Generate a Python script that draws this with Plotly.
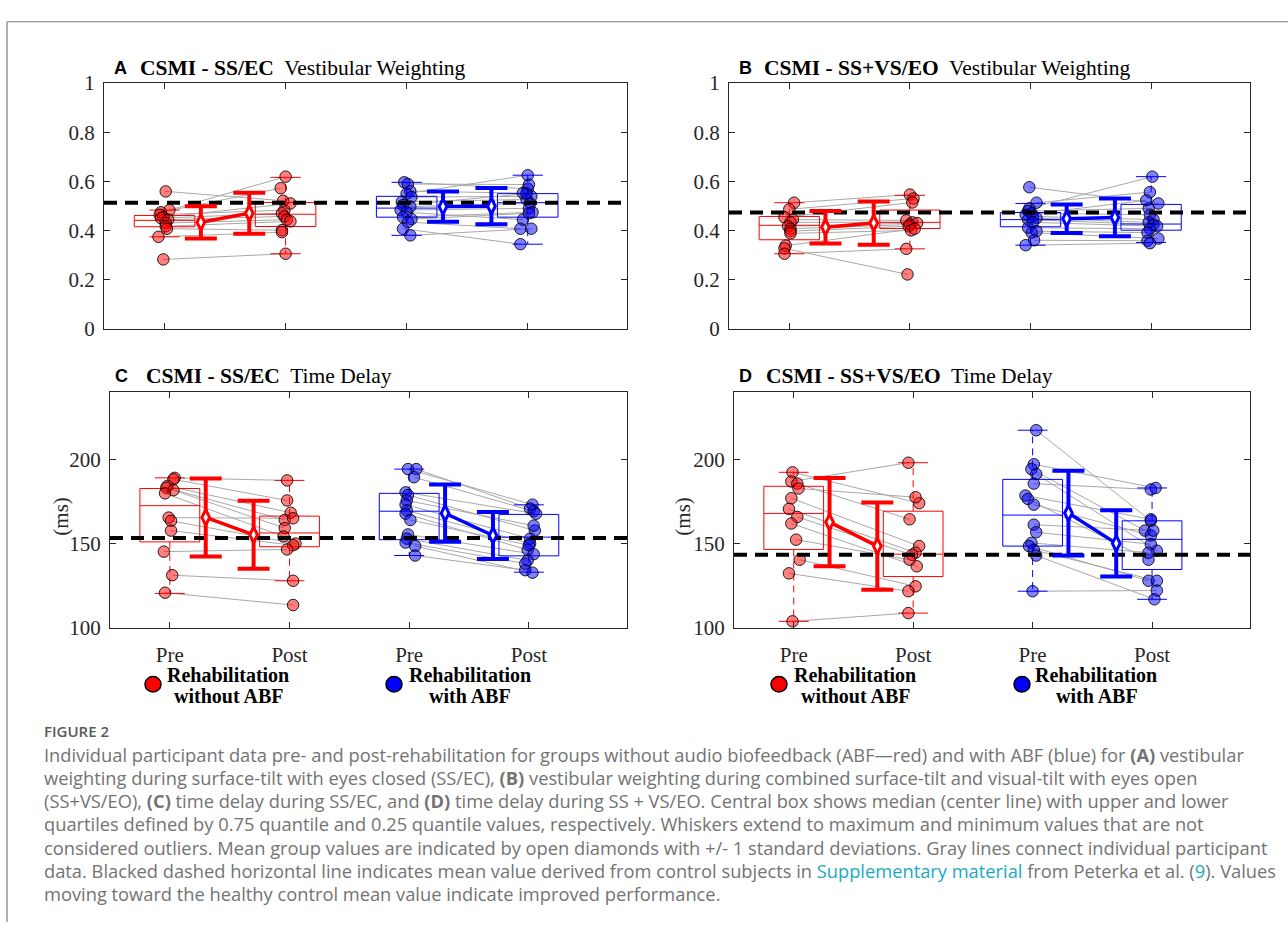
import plotly.graph_objects as go

W, H = 1288, 934

# ---------------- data ----------------
tick_positions = [1, 2, 3, 4]
tick_labels = ['Pre', 'Post', 'Pre', 'Post']

# Panel A  (SS/EC vestibular weighting)
a_red_pre = [0.559, 0.483, 0.474, 0.464, 0.454, 0.450, 0.444, 0.430, 0.417, 0.407, 0.374, 0.282]
a_red_pre_dx = [0.01, 0.04, -0.03, -0.04, -0.01, -0.03, 0.03, 0.01, 0.01, 0.02, -0.05, -0.01]
a_red_post = [0.521, 0.619, 0.572, 0.483, 0.510, 0.470, 0.457, 0.444, 0.437, 0.401, 0.393, 0.305]
a_red_post_dx = [-0.02, 0.00, -0.04, -0.01, 0.04, -0.03, -0.01, 0.01, 0.04, -0.03, -0.03, 0.00]
a_blue_pre = [0.596, 0.589, 0.560, 0.550, 0.536, 0.517, 0.503, 0.497, 0.483, 0.474, 0.454, 0.446, 0.434, 0.407, 0.380]
a_blue_pre_dx = [-0.02, 0.01, 0.03, 0.00, 0.04, -0.04, -0.03, 0.03, -0.05, 0.00, -0.03, 0.04, 0.01, -0.03, 0.03]
a_blue_post = [0.570, 0.587, 0.552, 0.625, 0.539, 0.526, 0.550, 0.510, 0.490, 0.444, 0.474, 0.470, 0.407, 0.344, 0.407]
a_blue_post_dx = [0.00, 0.01, -0.04, 0.00, 0.03, -0.01, -0.01, 0.02, 0.01, -0.04, 0.04, 0.01, -0.06, -0.06, 0.03]
a_q1 = [0.415, 0.416, 0.454, 0.454]
a_med = [0.441, 0.466, 0.491, 0.513]
a_q3 = [0.461, 0.514, 0.539, 0.550]
a_lo = [0.374, 0.305, 0.380, 0.344]
a_hi = [0.483, 0.616, 0.596, 0.625]
a_mean = [0.433, 0.470, 0.497, 0.499]
a_sd = [0.066, 0.083, 0.062, 0.074]
a_control = 0.513

# Panel B  (SS+VS/EO vestibular weighting)
b_red_pre = [0.513, 0.486, 0.454, 0.444, 0.433, 0.417, 0.407, 0.397, 0.388, 0.338, 0.327, 0.305]
b_red_pre_dx = [0.04, 0.00, -0.04, 0.03, 0.01, -0.01, 0.01, 0.01, 0.01, -0.03, -0.04, -0.04]
b_red_post = [0.546, 0.530, 0.514, 0.441, 0.433, 0.430, 0.424, 0.417, 0.400, 0.407, 0.221, 0.325]
b_red_post_dx = [0.00, 0.03, 0.02, -0.03, 0.02, 0.06, 0.00, -0.01, 0.01, 0.04, -0.02, -0.03]
b_blue_pre = [0.576, 0.513, 0.490, 0.479, 0.470, 0.464, 0.457, 0.450, 0.444, 0.433, 0.411, 0.397, 0.391, 0.360, 0.340]
b_blue_pre_dx = [-0.01, 0.05, -0.01, -0.02, 0.01, -0.04, 0.02, 0.05, -0.02, 0.02, -0.02, 0.05, 0.01, 0.03, -0.04]
b_blue_post = [0.510, 0.556, 0.619, 0.490, 0.464, 0.523, 0.444, 0.433, 0.424, 0.417, 0.407, 0.391, 0.367, 0.358, 0.348]
b_blue_post_dx = [0.06, -0.01, 0.01, -0.02, -0.01, -0.04, 0.02, -0.02, 0.02, 0.05, -0.01, -0.03, 0.06, -0.03, -0.01]
b_q1 = [0.362, 0.408, 0.415, 0.401]
b_med = [0.421, 0.433, 0.444, 0.426]
b_q3 = [0.457, 0.483, 0.473, 0.506]
b_lo = [0.305, 0.325, 0.340, 0.351]
b_hi = [0.513, 0.543, 0.510, 0.619]
b_mean = [0.413, 0.430, 0.448, 0.453]
b_sd = [0.066, 0.088, 0.058, 0.077]
b_control = 0.473

# Panel C  (SS/EC time delay, ms)
c_red_pre = [189.0, 188.1, 184.2, 183.1, 181.7, 179.8, 165.4, 163.5, 157.7, 145.2, 131.2, 120.8]
c_red_pre_dx = [0.04, 0.03, -0.02, -0.03, 0.03, -0.04, -0.01, 0.01, 0.01, -0.05, 0.02, -0.04]
c_red_post = [187.5, 175.6, 168.3, 164.0, 159.2, 154.2, 165.0, 150.0, 149.0, 146.5, 127.9, 113.5]
c_red_post_dx = [-0.02, -0.02, 0.01, -0.04, -0.04, -0.05, 0.03, 0.05, 0.03, -0.02, 0.03, 0.03]
c_blue_pre = [194.2, 194.2, 189.4, 180.4, 178.8, 175.6, 173.1, 169.6, 167.7, 164.0, 155.4, 152.9, 150.6, 148.5, 142.9]
c_blue_pre_dx = [-0.01, 0.06, 0.04, -0.03, -0.01, -0.02, -0.03, -0.02, -0.03, 0.01, -0.01, -0.02, -0.03, 0.05, 0.05]
c_blue_post = [173.1, 170.8, 169.2, 167.7, 157.7, 160.6, 152.9, 150.0, 146.2, 149.0, 143.7, 140.0, 138.1, 132.7, 134.2]
c_blue_post_dx = [0.03, 0.01, 0.04, 0.06, 0.05, 0.04, 0.01, 0.01, -0.01, 0.00, 0.04, -0.01, -0.03, 0.03, -0.03]
c_q1 = [151.0, 148.1, 152.3, 142.7]
c_med = [172.5, 156.3, 169.2, 153.8]
c_q3 = [182.7, 166.3, 179.8, 167.3]
c_lo = [120.4, 127.9, 142.9, 133.0]
c_hi = [189.0, 187.5, 194.2, 173.0]
c_mean = [165.5, 155.2, 168.0, 154.8]
c_sd = [23.2, 20.2, 17.0, 14.0]
c_control = 153.3

# Panel D  (SS+VS/EO time delay, ms)
d_red_pre = [192.3, 186.9, 185.6, 182.7, 176.9, 170.6, 165.8, 161.9, 152.3, 140.4, 132.3, 103.8]
d_red_pre_dx = [-0.01, -0.02, 0.03, 0.04, -0.02, -0.04, 0.03, -0.02, 0.02, 0.05, -0.04, -0.01]
d_red_post = [174.0, 198.0, 164.4, 177.5, 148.5, 144.6, 143.3, 136.5, 140.4, 124.6, 121.7, 108.7]
d_red_post_dx = [0.05, -0.04, -0.03, 0.02, 0.05, 0.02, -0.01, 0.03, -0.03, 0.02, -0.04, -0.04]
d_blue_pre = [217.3, 197.1, 194.2, 191.3, 185.6, 178.5, 176.5, 173.1, 161.2, 156.7, 150.4, 148.5, 146.2, 142.9, 121.7]
d_blue_pre_dx = [0.03, 0.01, -0.01, 0.03, 0.01, -0.06, -0.04, 0.01, 0.01, 0.03, -0.01, -0.03, 0.01, 0.03, 0.00]
d_blue_post = [163.5, 183.0, 157.7, 145.8, 182.1, 164.4, 140.4, 154.8, 157.7, 149.6, 144.6, 127.9, 127.9, 116.9, 122.1]
d_blue_post_dx = [-0.01, 0.03, -0.06, 0.04, -0.01, -0.01, -0.03, -0.01, 0.01, -0.01, -0.03, -0.03, 0.04, 0.02, 0.04]
d_q1 = [146.5, 130.4, 148.5, 134.6]
d_med = [167.9, 143.7, 166.9, 152.5]
d_q3 = [184.0, 169.2, 188.1, 163.5]
d_lo = [103.8, 108.7, 121.7, 116.9]
d_hi = [192.3, 198.0, 217.3, 183.0]
d_mean = [162.7, 148.5, 168.1, 150.1]
d_sd = [26.2, 25.9, 25.2, 19.7]
d_control = 143.3

vw_ticks = [0, 0.2, 0.4, 0.6, 0.8, 1]
vw_tick_labels = ['0', '0.2', '0.4', '0.6', '0.8', '1']
td_ticks = [100, 150, 200]
td_tick_labels = ['100', '150', '200']

# ---------------- style ----------------
RED = '#ff0000'
BLUE = '#0000ff'
FILLS = {RED: 'rgba(255,0,0,0.5)', BLUE: 'rgba(0,0,255,0.5)'}
AX = '#262626'
SERIF = 'Liberation Serif'
SANS = 'Liberation Sans'
X_RANGE = [0.5, 4.82]
BOX_HALF = 0.25
CAP_HALF = 0.125
MEAN_SHIFT = 0.3


def px(x):
    return x / W


def py(y):
    return 1 - y / H


panels = [
    dict(ax='', xdom=(104, 627), ydom=(73, 325), yr=[0, 1], yt=vw_ticks, ytl=vw_tick_labels, xlabels=False,
         groups=[(a_red_pre, a_red_pre_dx, a_red_post, a_red_post_dx, RED),
                 (a_blue_pre, a_blue_pre_dx, a_blue_post, a_blue_post_dx, BLUE)],
         box=(a_q1, a_med, a_q3, a_lo, a_hi), mean=a_mean, sd=a_sd, control=a_control),
    dict(ax='2', xdom=(729, 1250), ydom=(73, 325), yr=[0, 1], yt=vw_ticks, ytl=vw_tick_labels, xlabels=False,
         groups=[(b_red_pre, b_red_pre_dx, b_red_post, b_red_post_dx, RED),
                 (b_blue_pre, b_blue_pre_dx, b_blue_post, b_blue_post_dx, BLUE)],
         box=(b_q1, b_med, b_q3, b_lo, b_hi), mean=b_mean, sd=b_sd, control=b_control),
    dict(ax='3', xdom=(110, 627), ydom=(390, 632), yr=[100, 240], yt=td_ticks, ytl=td_tick_labels, xlabels=True,
         groups=[(c_red_pre, c_red_pre_dx, c_red_post, c_red_post_dx, RED),
                 (c_blue_pre, c_blue_pre_dx, c_blue_post, c_blue_post_dx, BLUE)],
         box=(c_q1, c_med, c_q3, c_lo, c_hi), mean=c_mean, sd=c_sd, control=c_control),
    dict(ax='4', xdom=(734, 1250), ydom=(390, 632), yr=[100, 240], yt=td_ticks, ytl=td_tick_labels, xlabels=True,
         groups=[(d_red_pre, d_red_pre_dx, d_red_post, d_red_post_dx, RED),
                 (d_blue_pre, d_blue_pre_dx, d_blue_post, d_blue_post_dx, BLUE)],
         box=(d_q1, d_med, d_q3, d_lo, d_hi), mean=d_mean, sd=d_sd, control=d_control),
]

fig = go.Figure()
layout_axes = {}

for p in panels:
    xa, ya = 'x' + p['ax'], 'y' + p['ax']
    q1, med, q3, lo, hi = p['box']

    # gray connecting lines
    for gi, (pre, pre_dx, post, post_dx, col) in enumerate(p['groups']):
        xpre, xpost = tick_positions[2 * gi], tick_positions[2 * gi + 1]
        lx, ly = [], []
        for v0, d0, v1, d1 in zip(pre, pre_dx, post, post_dx):
            lx += [xpre + d0, xpost + d1, None]
            ly += [v0, v1, None]
        fig.add_trace(go.Scatter(x=lx, y=ly, mode='lines', xaxis=xa, yaxis=ya,
                                 line=dict(color='#a8a8a8', width=1), hoverinfo='skip', showlegend=False))

    # boxes
    for k, pos in enumerate(tick_positions):
        col = RED if k < 2 else BLUE
        fig.add_trace(go.Scatter(
            x=[pos - BOX_HALF, pos + BOX_HALF, pos + BOX_HALF, pos - BOX_HALF, pos - BOX_HALF, None,
               pos - BOX_HALF, pos + BOX_HALF, None,
               pos - CAP_HALF, pos + CAP_HALF, None, pos - CAP_HALF, pos + CAP_HALF],
            y=[q1[k], q1[k], q3[k], q3[k], q1[k], None, med[k], med[k], None,
               hi[k], hi[k], None, lo[k], lo[k]],
            mode='lines', xaxis=xa, yaxis=ya, line=dict(color=col, width=1),
            hoverinfo='skip', showlegend=False))
        fig.add_trace(go.Scatter(
            x=[pos, pos, None, pos, pos], y=[q3[k], hi[k], None, q1[k], lo[k]],
            mode='lines', xaxis=xa, yaxis=ya, line=dict(color=col, width=1, dash='7px,5px'),
            hoverinfo='skip', showlegend=False))

    # individual points
    for gi, (pre, pre_dx, post, post_dx, col) in enumerate(p['groups']):
        xpre, xpost = tick_positions[2 * gi], tick_positions[2 * gi + 1]
        xs = [xpre + d for d in pre_dx] + [xpost + d for d in post_dx]
        fig.add_trace(go.Scatter(x=xs, y=list(pre) + list(post), mode='markers', xaxis=xa, yaxis=ya,
                                 marker=dict(size=11.5, color=FILLS[col],
                                             line=dict(color='rgba(0,0,0,0.85)', width=1)),
                                 showlegend=False))

    # control mean dashed line
    fig.add_trace(go.Scatter(x=X_RANGE, y=[p['control'], p['control']], mode='lines', xaxis=xa, yaxis=ya,
                             line=dict(color='black', width=4, dash='13px,8px'),
                             hoverinfo='skip', showlegend=False))

    # group means +/- SD
    for gi, col in enumerate([RED, BLUE]):
        xpre, xpost = tick_positions[2 * gi], tick_positions[2 * gi + 1]
        fig.add_trace(go.Scatter(
            x=[xpre + MEAN_SHIFT, xpost - MEAN_SHIFT], y=p['mean'][2 * gi:2 * gi + 2],
            error_y=dict(type='data', array=p['sd'][2 * gi:2 * gi + 2], color=col, thickness=4, width=16),
            mode='lines+markers', xaxis=xa, yaxis=ya, line=dict(color=col, width=3.5),
            marker=dict(symbol='diamond-tall', size=11, color='white', line=dict(color=col, width=3)),
            showlegend=False))

    common = dict(showline=True, linecolor=AX, linewidth=1, mirror='ticks', ticks='inside', ticklen=6,
                  tickwidth=1, tickcolor=AX, showgrid=False, zeroline=False, fixedrange=True,
                  tickfont=dict(family=SERIF, size=21, color=AX))
    layout_axes['xaxis' + p['ax']] = dict(
        domain=[px(p['xdom'][0]), px(p['xdom'][1])], anchor=ya, range=X_RANGE,
        tickvals=tick_positions, ticktext=tick_labels if p['xlabels'] else [''] * 4,
        ticklabelstandoff=8, **common)
    layout_axes['yaxis' + p['ax']] = dict(
        domain=[py(p['ydom'][1]), py(p['ydom'][0])], anchor=xa, range=p['yr'],
        tickvals=p['yt'], ticktext=p['ytl'], ticklabelstandoff=4, **common)

fig.update_layout(width=W, height=H, margin=dict(l=0, r=0, t=0, b=0),
                  paper_bgcolor='white', plot_bgcolor='white', showlegend=False, **layout_axes)

ann = []


def text(x, y, s, size=20, family=SERIF, color='black', xanchor='left', angle=0, weight=None):
    f = dict(family=family, size=size, color=color)
    if weight:
        f['weight'] = weight
    ann.append(dict(x=px(x), y=py(y), xref='paper', yref='paper', text=s, showarrow=False,
                    xanchor=xanchor, yanchor='middle', font=f, textangle=angle))


NB = '\u00a0'
# panel titles
text(112, 57, '<b>A</b>', size=18, family=SANS)
text(138, 57, '<b>CSMI - SS/EC</b>' + NB + ' Vestibular Weighting', size=21.5)
text(737, 57, '<b>B</b>', size=18, family=SANS)
text(762, 57, '<b>CSMI - SS+VS/EO</b>' + NB + ' Vestibular Weighting', size=21.5)
text(113, 374, '<b>C</b>', size=18, family=SANS)
text(144, 374, '<b>CSMI - SS/EC</b>' + NB + ' Time Delay', size=21.5)
text(737, 374, '<b>D</b>', size=18, family=SANS)
text(764, 374, '<b>CSMI - SS+VS/EO</b>' + NB + ' Time Delay', size=21.5)

# y-axis labels
text(61, 518, '(ms)', size=21, xanchor='center', angle=-90, color=AX)
text(683, 518, '(ms)', size=21, xanchor='center', angle=-90, color=AX)

# group legends
for (cx, tx, cx2), col, l2 in [((153, 165, 228), RED, 'without ABF'), ((394, 407, 470), BLUE, 'with ABF'),
                               ((779, 792, 855), RED, 'without ABF'), ((1022, 1033, 1097), BLUE, 'with ABF')]:
    text(tx, 680, '<b>Rehabilitation</b>', size=20)
    text(cx2, 702, '<b>' + l2 + '</b>', size=20, xanchor='center')
    fig.add_shape(type='circle', xref='paper', yref='paper', x0=px(cx - 8), x1=px(cx + 8),
                  y0=py(690 + 8), y1=py(690 - 8), fillcolor=col, line=dict(color='black', width=1.5))

# caption
CAP = 'Open Sans'
CAPC = '#737373'
TEAL = '#1aa9c2'
text(42, 738, 'FIGURE 2', size=15, family=CAP, color='#595959', weight=600)
cap_lines = [
    'Individual participant data pre- and post-rehabilitation for groups without audio biofeedback (ABF\u2014red) and with ABF (blue) for <b>(A)</b> vestibular',
    'weighting during surface-tilt with eyes closed (SS/EC), <b>(B)</b> vestibular weighting during combined surface-tilt and visual-tilt with eyes open',
    '(SS+VS/EO), <b>(C)</b> time delay during SS/EC, and <b>(D)</b> time delay during SS + VS/EO. Central box shows median (center line) with upper and lower',
    'quartiles defined by 0.75 quantile and 0.25 quantile values, respectively. Whiskers extend to maximum and minimum values that are not',
    'considered outliers. Mean group values are indicated by open diamonds with +/- 1 standard deviations. Gray lines connect individual participant',
    'data. Blacked dashed horizontal line indicates mean value derived from control subjects in <span style="color:' + TEAL
    + '">Supplementary material</span> from Peterka et al. (<span style="color:' + TEAL + '">9</span>). Values',
    'moving toward the healthy control mean value indicate improved performance.',
]
for i, s in enumerate(cap_lines):
    text(42, 762 + i * 23.8, s, size=18.3, family=CAP, color=CAPC)

# outer frame lines
fig.add_shape(type='line', xref='paper', yref='paper', x0=px(7), x1=1, y0=py(10), y1=py(10),
              line=dict(color='#7a7a7a', width=1.2))
fig.add_shape(type='line', xref='paper', yref='paper', x0=px(7), x1=px(7), y0=py(10), y1=0,
              line=dict(color='#7a7a7a', width=1.2))

fig.update_layout(annotations=ann)
fig.write_html('out.html', config={'displayModeBar': False},
               post_script="document.body.style.margin='0px';document.body.style.overflow='hidden';")
